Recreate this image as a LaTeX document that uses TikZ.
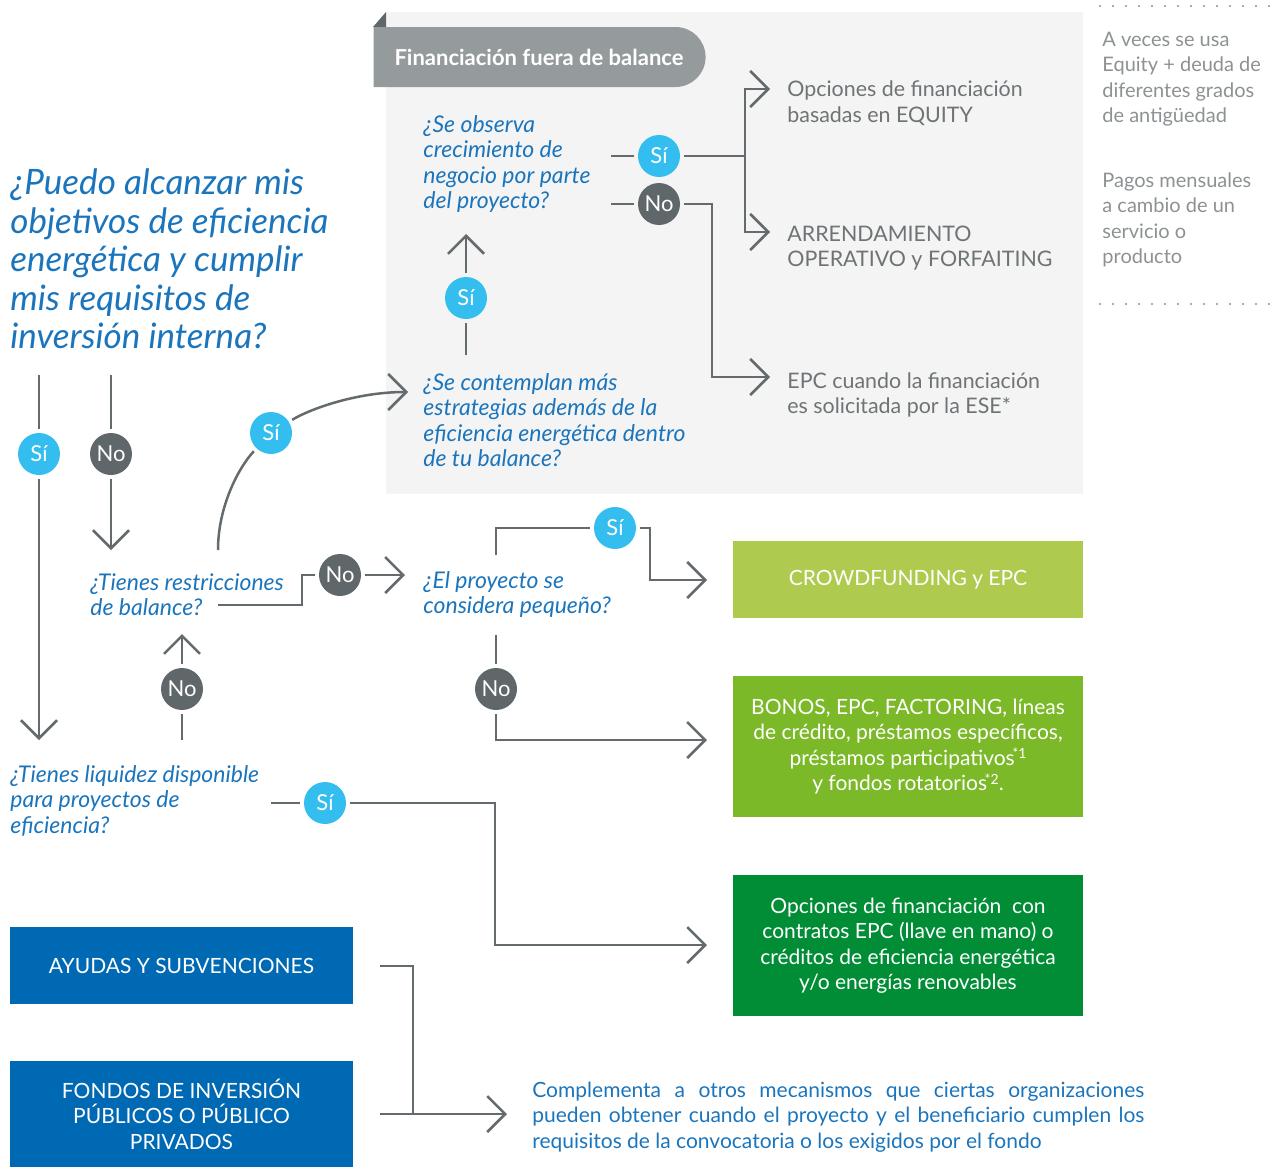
\documentclass[tikz,border=0pt]{standalone}
\usepackage{fontspec}
\setmainfont{Lato}
\usepackage{tikz}
\usetikzlibrary{arrows.meta, positioning, shapes.misc}

\definecolor{linegray}{HTML}{646B6E}
\definecolor{qblue}{HTML}{1B75BC}
\definecolor{optgray}{HTML}{6E7375}
\definecolor{notegray}{HTML}{8C9193}
\definecolor{panelgray}{HTML}{F4F4F4}
\definecolor{tabgray}{HTML}{959B9D}
\definecolor{siblue}{HTML}{34BEEF}
\definecolor{nogray}{HTML}{5F676A}
\definecolor{greenA}{HTML}{AECB4F}
\definecolor{greenB}{HTML}{7BB928}
\definecolor{greenC}{HTML}{008D36}
\definecolor{fundblue}{HTML}{0069B4}

\newcommand{\supnote}[1]{\kern-1.2pt\raisebox{0.3em}{\fontsize{7}{8}\selectfont #1}}

\begin{document}
\begin{tikzpicture}[x=0.5pt, y=-0.5pt, on grid, node distance=24pt,
    conn/.style={draw=linegray, line width=1.25pt},
    arr/.style={conn, -{Straight Barb[length=9pt, width=18pt, line width=1.25pt]}},
    si/.style={circle, fill=siblue, text=white, minimum size=21pt, inner sep=0pt,
      outer sep=2pt, font=\fontsize{11}{12}\selectfont},
    no/.style={si, fill=nogray},
    bigq/.style={align=left, anchor=west, inner sep=0pt, text=qblue,
      font=\fontsize{17.5}{19.25}\selectfont\itshape},
    question/.style={align=left, anchor=west, inner sep=0pt, text=qblue,
      font=\fontsize{11.5}{12.75}\selectfont\itshape},
    option/.style={align=left, anchor=west, inner sep=0pt, text=optgray,
      font=\fontsize{10.7}{12.75}\selectfont},
    note/.style={option, text=notegray, font=\fontsize{10}{12.75}\selectfont},
    result/.style={fill=#1, text=white, minimum width=175pt, align=center,
      inner sep=0pt, font=\fontsize{10.5}{12.75}\selectfont},
    fund/.style={result=fundblue, minimum width=171.5pt},
  ]
  \useasboundingbox (0,0) rectangle (1280,1167);

  % panel fuera de balance
  \fill[panelgray] (386,12) rectangle (1083,494);
  \fill[nogray] (373,27) -- (386,12) -- (386,27) -- cycle;
  \node[rounded rectangle, rounded rectangle left arc=none, fill=tabgray, text=white,
    minimum width=166pt, minimum height=30pt, inner sep=0pt,
    font=\fontsize{11}{12}\selectfont\bfseries] (tab) at (539,57) {Financiación fuera de balance};

  % notas
  \draw[notegray, line width=1.2pt, line cap=round, dash pattern=on 0pt off 6.5pt] (1100,6) -- (1272,6);
  \draw[notegray, line width=1.2pt, line cap=round, dash pattern=on 0pt off 6.5pt] (1100,304) -- (1272,304);
  \node[note] (n1) at (1102,79)  {A veces se usa\\Equity + deuda de\\diferentes grados\\de antigüedad};
  \node[note] (n2) at (1102,220) {Pagos mensuales\\a cambio de un\\servicio o\\producto};

  % preguntas
  \node[bigq]     (start) at (10,259)    {¿Puedo alcanzar mis\\objetivos de eficiencia\\energética y cumplir\\mis requisitos de\\inversión interna?};
  \node[question] (q1)    at (423,164)   {¿Se observa\\crecimiento de\\negocio por parte\\del proyecto?};
  \node[question] (q2)    at (423,420)   {¿Se contemplan más\\estrategias además de la\\eficiencia energética dentro\\de tu balance?};
  \node[question] (q3)    at (90,594.5)  {¿Tienes restricciones\\de balance?};
  \node[question] (q4)    at (423,594.5) {¿El proyecto se\\considera pequeño?};
  \node[question] (q5)    at (10,800.5)  {¿Tienes liquidez disponible\\para proyectos de\\eficiencia?};

  % opciones
  \node[option] (o1) at (787,103) {Opciones de financiación\\basadas en EQUITY};
  \node[option] (o2) at (787,248) {ARRENDAMIENTO\\OPERATIVO y FORFAITING};
  \node[option] (o3) at (787,395) {EPC cuando la financiación\\es solicitada por la ESE*};

  % resultados
  \node[result=greenA, minimum height=38.5pt] (crowd) at (908,579.5) {CROWDFUNDING y EPC};
  \node[result=greenB, minimum height=70.5pt] (bonos) at (908,746.5) {BONOS, EPC, FACTORING, líneas\\de crédito, préstamos específicos,\\préstamos participativos\supnote{*1}\\y fondos rotatorios\supnote{*2}.};
  \node[result=greenC, minimum height=70.5pt] (epc)   at (908,945.5) {Opciones de financiación~ con\\contratos EPC (llave en mano) o\\créditos de eficiencia energética\\y/o energías renovables};
  \node[fund, minimum height=38.5pt] (ayudas) at (181.5,965.5) {AYUDAS Y SUBVENCIONES};
  \node[fund, minimum height=53pt]   (fondos) at (181.5,1114)  {FONDOS DE INVERSIÓN\\PÚBLICOS O PÚBLICO\\PRIVADOS};
  \node[anchor=west, inner sep=0pt, text width=306pt, align=justify, text=qblue,
    font=\fontsize{10.5}{12.75}\selectfont] (comp) at (532,1117)
    {Complementa a otros mecanismos que ciertas organizaciones\linebreak pueden obtener cuando el proyecto y el beneficiario cumplen los\linebreak requisitos de la convocatoria o los exigidos por el fondo};

  % respuestas
  \node[si] (si1) at (659,156) {Sí};
  \node[no] (no1) [below of=si1] {No};
  \node[si] (si2) at (466,298) {Sí};
  \node[si] (si3) at (271,433) {Sí};
  \node[si] (si0) at (39,454) {Sí};
  \node[no] (no0) [right of=si0, node distance=36pt] {No};
  \node[no] (no2) at (340,575) {No};
  \node[si] (si4) at (615,528) {Sí};
  \node[no] (no3) at (182,689) {No};
  \node[no] (no4) at (496,689) {No};
  \node[si] (si5) at (325,803) {Sí};

  % puntos libres
  \coordinate (q1si)   at (611,156);
  \coordinate (q1no)   at (611,204);
  \coordinate (fork)   at (745,156);
  \coordinate (o1in)   at (770,89);
  \coordinate (o2in)   at (770,232);
  \coordinate (o3in)   at (770,377);
  \coordinate (q2up)   at (466,355);
  \coordinate (q1in)   at (466,234);
  \coordinate (q3up)   at (218,550);
  \coordinate (q2in)   at (408,392);
  \coordinate (top0)   at (39,375);
  \coordinate (q5in)   at (39,740);
  \coordinate (top1)   at (111,375);
  \coordinate (q3in)   at (111,550);
  \coordinate (q3out)  at (218,605);
  \coordinate (q4in)   at (405,575);
  \coordinate (q5up)   at (182,740);
  \coordinate (q3in2)  at (182,634);
  \coordinate (q4up)   at (496,555);
  \coordinate (crowdin) at (707,580);
  \coordinate (q4down) at (496,635);
  \coordinate (bonosin) at (707,740);
  \coordinate (q5si)   at (271,803);
  \coordinate (epcin)  at (707,945);
  \coordinate (ayout)  at (380,966);
  \coordinate (fondout) at (380,1114);
  \coordinate (compin) at (507,1114);

  % conexiones
  \draw[conn] (q1si) -- (si1);
  \draw[conn] (si1) -- (fork);
  \draw[arr] (fork) |- (o1in);
  \draw[arr] (fork) |- (o2in);
  \draw[conn] (q1no) -- (no1);
  \draw[arr] (no1.east) -- ++(28,0) |- (o3in);
  \draw[conn] (q2up) -- (si2);
  \draw[arr] (si2) -- (q1in);
  \draw[conn] (q3up) .. controls (218,506) and (239,467) .. (si3);
  \draw[arr] (si3) .. controls (308,410) and (355,392) .. (q2in);
  \draw[conn] (top0) -- (si0);
  \draw[arr] (si0) -- (q5in);
  \draw[conn] (top1) -- (no0);
  \draw[arr] (no0) -- (q3in);
  \draw[conn] (q3out) -- ++(84,0) |- (no2);
  \draw[arr] (no2) -- (q4in);
  \draw[conn] (q5up) -- (no3);
  \draw[arr] (no3) -- (q3in2);
  \draw[conn] (q4up) |- (si4);
  \draw[arr] (si4.east) -- ++(10,0) |- (crowdin);
  \draw[conn] (q4down) -- (no4);
  \draw[arr] (no4) |- (bonosin);
  \draw[conn] (q5si) -- (si5);
  \draw[arr] (si5.east) -- ++(145,0) |- (epcin);
  \draw[conn] (ayout) -- ++(33,0) -- ++(0,148);
  \draw[arr] (fondout) -- (compin);
\end{tikzpicture}
\end{document}
